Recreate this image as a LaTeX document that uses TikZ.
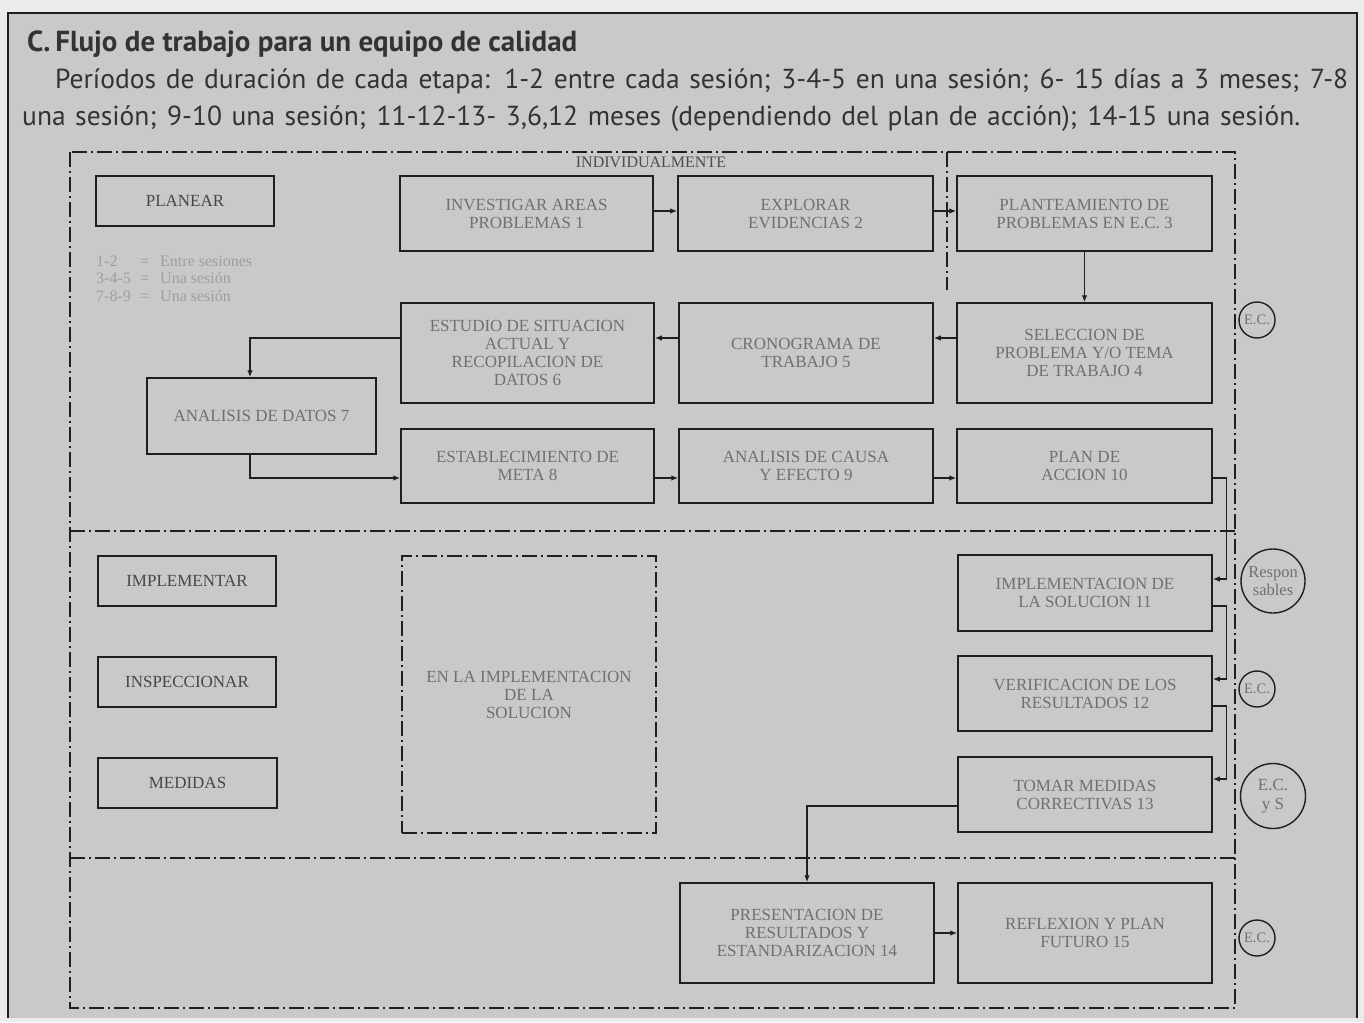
\documentclass[tikz,border=0pt]{standalone}
\usepackage{fontspec}
\usetikzlibrary{arrows.meta,calc}
\newfontfamily\hdfont{PT Sans}
\newfontfamily\bxfont{Liberation Serif}
\definecolor{paper}{gray}{0.79}
\definecolor{outside}{gray}{0.92}
\definecolor{ink}{gray}{0.12}
\definecolor{fade}{gray}{0.44}
\definecolor{headink}{gray}{0.2}
\begin{document}
\begin{tikzpicture}[x=1pt,y=-1pt,
  box/.style={draw=ink, line width=1.5pt, text=fade, font=\bxfont\fontsize{17}{18}\selectfont, align=center, inner sep=0pt},
  lbl/.style={draw=ink, line width=1.5pt, text=black!72, font=\bxfont\fontsize{17}{19}\selectfont, inner sep=0pt, minimum width=178pt, minimum height=50pt},
  arr/.style={draw=ink, line width=1.3pt, -{Latex[length=7pt,width=5.5pt]}},
  region/.style={draw=ink, line width=1.2pt, dash pattern=on 15pt off 4pt on 2pt off 4pt},
  circ/.style={circle, draw=ink, line width=1.4pt, text=fade, align=center, inner sep=0pt},
]
\useasboundingbox (0,0) rectangle (1364,1022);
\fill[outside] (0,0) rectangle (1364,1022);
\fill[paper] (8,13) rectangle (1357,1018);
\draw[ink, line width=1.5pt] (8,1018) -- (8,13) -- (1357,13) -- (1357,1018);

% header
\node[anchor=base west, inner sep=0, text=headink, font=\hdfont\bfseries\fontsize{29}{32}\selectfont] (title) at (27,52) {C.\,Flujo de trabajo para un equipo de calidad};
\node[anchor=base west, inner sep=0, text=headink, font=\hdfont\fontsize{27.5}{32}\selectfont] (intro1) at (55,89) {\makebox[1293pt][s]{Períodos de duración de cada etapa: 1-2 entre cada sesión; 3-4-5 en una sesión; 6- 15 días a 3 meses; 7-8}};
\node[anchor=base west, inner sep=0, text=headink, font=\hdfont\fontsize{27.5}{32}\selectfont] (intro2) at (22,125) {\makebox[1278pt][s]{una sesión; 9-10 una sesión; 11-12-13- 3,6,12 meses (dependiendo del plan de acción); 14-15 una sesión.}};

% regions
\draw[region] (70,152) rectangle (1235,1008);
\draw[region] (70,531) -- (1235,531);
\draw[region] (70,858) -- (1235,858);
\draw[region] (947,152) -- (947,290);
\node[inner sep=0, text=black!70, font=\bxfont\fontsize{16}{18}\selectfont] (indiv) at (651,162) {INDIVIDUALMENTE};

% legend
\node[anchor=north west, inner sep=0, text=black!38, font=\bxfont\fontsize{16}{17.5}\selectfont] (legend) at (96,254)
  {\begin{tabular}{@{}p{44pt}@{}p{20pt}@{}l@{}}1-2 & = & Entre sesiones\\ 3-4-5 & = & Una sesión\\ 7-8-9 & = & Una sesión\end{tabular}};

% stage labels
\node[lbl] (planear) at (185,201) {PLANEAR};
\node[lbl] (implementar) at (187,581) {IMPLEMENTAR};
\node[lbl] (inspeccionar) at (187,682) {INSPECCIONAR};
\node[lbl, minimum width=179pt] (medidas) at (187.5,783) {MEDIDAS};

% boxes
\node[box, minimum width=253pt, minimum height=75pt] (b1) at (526.5,213.5) {INVESTIGAR AREAS\\PROBLEMAS 1};
\node[box, minimum width=255pt, minimum height=75pt] (b2) at (805.5,213.5) {EXPLORAR\\EVIDENCIAS 2};
\node[box, minimum width=255pt, minimum height=75pt] (b3) at (1084.5,213.5) {PLANTEAMIENTO DE\\PROBLEMAS EN E.C. 3};
\node[box, minimum width=255pt, minimum height=100pt] (b4) at (1084.5,353) {SELECCION DE\\PROBLEMA Y/O TEMA\\DE TRABAJO 4};
\node[box, minimum width=254pt, minimum height=100pt] (b5) at (806,353) {CRONOGRAMA DE\\TRABAJO 5};
\node[box, minimum width=253pt, minimum height=100pt] (b6) at (527.5,353) {ESTUDIO DE SITUACION\\ACTUAL Y\\RECOPILACION DE\\DATOS 6};
\node[box, minimum width=229pt, minimum height=76pt] (b7) at (261.5,416) {ANALISIS DE DATOS 7};
\node[box, minimum width=253pt, minimum height=74pt] (b8) at (527.5,466) {ESTABLECIMIENTO DE\\META 8};
\node[box, minimum width=254pt, minimum height=74pt] (b9) at (806,466) {ANALISIS DE CAUSA\\Y EFECTO 9};
\node[box, minimum width=255pt, minimum height=74pt] (b10) at (1084.5,466) {PLAN DE\\ACCION 10};
\node[box, minimum width=254pt, minimum height=76pt] (b11) at (1085,593) {IMPLEMENTACION DE\\LA SOLUCION 11};
\node[box, minimum width=254pt, minimum height=75pt] (b12) at (1085,693.5) {VERIFICACION DE LOS\\RESULTADOS 12};
\node[box, minimum width=254pt, minimum height=75pt] (b13) at (1085,794.5) {TOMAR MEDIDAS\\CORRECTIVAS 13};
\node[box, minimum width=254pt, minimum height=100pt] (b14) at (807,933) {PRESENTACION DE\\RESULTADOS Y\\ESTANDARIZACION 14};
\node[box, minimum width=254pt, minimum height=100pt] (b15) at (1085,933) {REFLEXION Y PLAN\\FUTURO 15};
\node[box, region, minimum width=254pt, minimum height=277pt] (sol) at (529,694.5) {EN LA IMPLEMENTACION\\DE LA\\SOLUCION};

% circles
\node[circ, minimum size=36pt, font=\bxfont\fontsize{14.5}{16}\selectfont] (ec1) at (1257,320) {E.C.};
\node[circ, minimum size=64pt, font=\bxfont\fontsize{16.5}{18}\selectfont] (resp) at (1273,581) {Respon\\sables};
\node[circ, minimum size=36pt, font=\bxfont\fontsize{14.5}{16}\selectfont] (ec2) at (1257,689) {E.C.};
\node[circ, minimum size=65pt, font=\bxfont\fontsize{17}{19}\selectfont] (ecys) at (1273,796) {E.C.\\y S};
\node[circ, minimum size=36pt, font=\bxfont\fontsize{14.5}{16}\selectfont] (ec3) at (1257,938) {E.C.};

% connectors
\draw[arr] ([yshift=2.5pt]b1.east) -- ([yshift=2.5pt]b2.west);
\draw[arr] ([yshift=2.5pt]b2.east) -- ([yshift=2.5pt]b3.west);
\draw[arr] (b3.south) -- (b4.north);
\draw[arr] ([yshift=15pt]b4.west) -- ([yshift=15pt]b5.east);
\draw[arr] ([yshift=15pt]b5.west) -- ([yshift=15pt]b6.east);
\draw[arr] ([yshift=15pt]b6.west) -| ([xshift=-11.5pt]b7.north);
\draw[arr] ([xshift=-11.5pt]b7.south) |- ([yshift=-12pt]b8.west);
\draw[arr] ([yshift=-12pt]b8.east) -- ([yshift=-12pt]b9.west);
\draw[arr] ([yshift=-12pt]b9.east) -- ([yshift=-12pt]b10.west);
\draw[arr] ([yshift=-12pt]b10.east) -- ++(14pt,0) |- ([yshift=14pt]b11.east);
\draw[arr] ([yshift=-13pt]b11.east) -- ++(14pt,0) |- ([yshift=14.5pt]b12.east);
\draw[arr] ([yshift=-12.5pt]b12.east) -- ++(14pt,0) |- ([yshift=15.5pt]b13.east);
\draw[arr] ([yshift=-11.5pt]b13.west) -| (b14.north);
\draw[arr] (b14.east) -- (b15.west);
\end{tikzpicture}
\end{document}
